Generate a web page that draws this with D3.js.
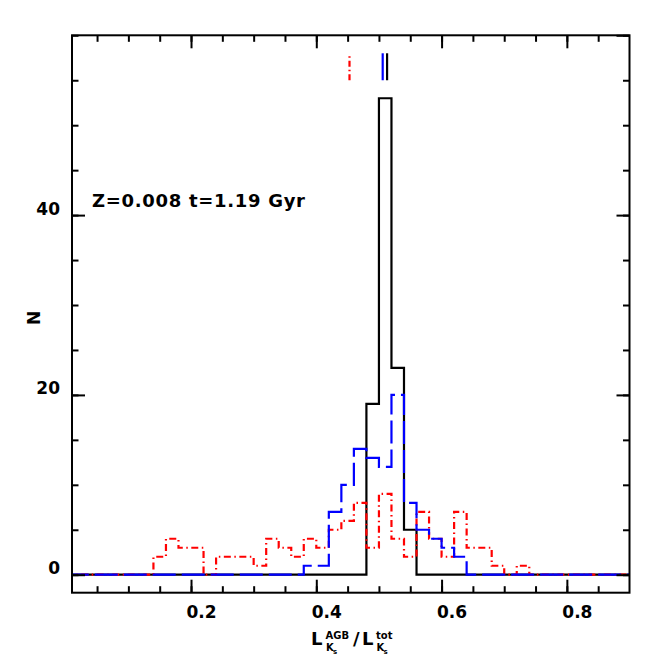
<!DOCTYPE html>
<html lang="en">
<head>
<meta charset="utf-8">
<title>AGB luminance fraction histogram</title>
<script src="https://d3js.org/d3.v7.min.js"></script>
<style>
body { margin: 0; background: #fff; }
</style>
</head>
<body>
<div id="container"></div>
<script>
// histogram bins: width 0.02, counts listed from the first non-empty bin
const binWidth = 0.02;
const binStart = 0.00;
const binEnd = 0.90;

const blackFrom = 0.48;
const blackCounts = [19, 53, 23, 5];

const blueFrom = 0.38;
const blueCounts = [1, 1, 7, 10, 14, 13, 12, 20, 8, 5, 4, 3, 2];

const redFrom = 0.14;
const redCounts = [2, 4, 3, 3, 0, 2, 2, 2, 1, 4, 3, 2, 4, 3, 5, 6, 8, 3, 9, 4, 2, 7, 4, 2, 7, 3, 3, 1, 0, 1];

// mean markers drawn at the top of the panel
const markerValues = [0.453, 0.506, 0.513];
const markerSeries = ["red", "blue", "black"];

const xMajor = [0.2, 0.4, 0.6, 0.8];
const yMajor = [0, 20, 40, 60];

const width = 664;
const height = 664;
const plotL = 72, plotR = 629.5, plotT = 35.3, plotB = 592.7;
const font = "DejaVu Sans";

const svg = d3.select("div#container").append("svg")
    .attr("width", width)
    .attr("height", height);

const x = d3.scaleLinear().domain([0.01, 0.9]).range([plotL, plotR]);
const y = d3.scaleLinear().domain([-2, 60]).range([plotB, plotT]);

function fullBins(from, counts) {
    const n = Math.round((binEnd - binStart) / binWidth);
    const out = [];
    const k0 = Math.round((from - binStart) / binWidth);
    for (let i = 0; i < n; i++) {
        const c = (i >= k0 && i - k0 < counts.length) ? counts[i - k0] : 0;
        out.push({edge: binStart + i * binWidth, n: c});
    }
    out.push({edge: binEnd, n: out[out.length - 1].n});
    return out;
}

const series = [
    {id: "black", color: "#000", dash: null, bins: fullBins(blackFrom, blackCounts)},
    {id: "red", color: "#ff0000", dash: "7,3.5,1.5,3.5", bins: fullBins(redFrom, redCounts)},
    {id: "blue", color: "#0000ff", dash: "23,6", bins: fullBins(blueFrom, blueCounts)}
];
const styleOf = {};
series.forEach(function(s) { styleOf[s.id] = s; });

svg.append("clipPath").attr("id", "plotclip")
    .append("rect")
    .attr("x", plotL).attr("y", plotT)
    .attr("width", plotR - plotL).attr("height", plotB - plotT);

const line = d3.line()
    .curve(d3.curveStepAfter)
    .x(function(d) { return x(d.edge); })
    .y(function(d) { return y(d.n); });

svg.append("g")
    .attr("clip-path", "url(#plotclip)")
    .selectAll("path")
    .data(series)
    .enter()
    .append("path")
    .attr("d", function(d) { return line(d.bins); })
    .attr("fill", "none")
    .attr("stroke", function(d) { return d.color; })
    .attr("stroke-width", 2.2)
    .attr("stroke-dasharray", function(d) { return d.dash; });

// short vertical markers at the mean of each distribution
svg.append("g")
    .selectAll("line")
    .data(markerValues)
    .enter()
    .append("line")
    .attr("x1", function(d) { return x(d); })
    .attr("x2", function(d) { return x(d); })
    .attr("y1", y(55))
    .attr("y2", y(58))
    .attr("stroke", function(d, i) { return styleOf[markerSeries[i]].color; })
    .attr("stroke-width", 2.2)
    .attr("stroke-dasharray", function(d, i) {
        return markerSeries[i] === "red" ? "6,3,1.5,3" : null; });

// axes: ticks point inward on all four sides
function styleAxis(g) {
    g.select(".domain").remove();
    g.selectAll("line").attr("stroke", "#000").attr("stroke-width", 2);
    g.selectAll("text")
        .attr("font-family", font)
        .attr("font-weight", "bold")
        .attr("font-size", 17)
        .attr("fill", "#000");
}
const xMinor = d3.range(0.05, 0.9, 0.05);
const yMinor = d3.range(0, 61, 5);

svg.append("g").attr("transform", "translate(0," + plotB + ")")
    .call(d3.axisBottom(x).tickValues(xMinor).tickSize(-6.5).tickFormat(""))
    .call(styleAxis);
svg.append("g").attr("transform", "translate(0," + plotB + ")")
    .call(d3.axisBottom(x).tickValues(xMajor).tickSize(-13).tickFormat(d3.format(".1f")))
    .call(styleAxis)
    .selectAll("text")
    .attr("x", 10)
    .attr("y", 25.5)
    .attr("dy", 0);
svg.append("g").attr("transform", "translate(0," + plotT + ")")
    .call(d3.axisTop(x).tickValues(xMinor).tickSize(-6.5).tickFormat(""))
    .call(styleAxis);
svg.append("g").attr("transform", "translate(0," + plotT + ")")
    .call(d3.axisTop(x).tickValues(xMajor).tickSize(-13).tickFormat(""))
    .call(styleAxis);

svg.append("g").attr("transform", "translate(" + plotL + ",0)")
    .call(d3.axisLeft(y).tickValues(yMinor).tickSize(-6.5).tickFormat(""))
    .call(styleAxis);
svg.append("g").attr("transform", "translate(" + plotL + ",0)")
    .call(d3.axisLeft(y).tickValues(yMajor.filter(function(v) { return v < 60; }))
        .tickSize(-13).tickPadding(12))
    .call(styleAxis)
    .selectAll("text")
    .attr("dy", -1);
svg.append("g").attr("transform", "translate(" + plotR + ",0)")
    .call(d3.axisRight(y).tickValues(yMinor).tickSize(-6.5).tickFormat(""))
    .call(styleAxis);
svg.append("g").attr("transform", "translate(" + plotR + ",0)")
    .call(d3.axisRight(y).tickValues(yMajor).tickSize(-13).tickFormat(""))
    .call(styleAxis);

svg.append("rect")
    .attr("x", plotL).attr("y", plotT)
    .attr("width", plotR - plotL).attr("height", plotB - plotT)
    .attr("fill", "none")
    .attr("stroke", "#000")
    .attr("stroke-width", 2);

// labels
svg.append("text")
    .attr("transform", "translate(40," + ((plotT + plotB) / 2 + 4) + ") rotate(-90)")
    .attr("text-anchor", "middle")
    .attr("font-family", font)
    .attr("font-weight", "bold")
    .attr("font-size", 17)
    .text("N");

svg.append("text")
    .attr("x", 92)
    .attr("y", 206.5)
    .attr("font-family", font)
    .attr("font-weight", "bold")
    .attr("font-size", 18)
    .attr("textLength", 213)
    .attr("lengthAdjust", "spacing")
    .text("Z=0.008 t=1.19 Gyr");

const xl = svg.append("g")
    .attr("transform", "translate(311,645)")
    .attr("font-family", font)
    .attr("font-weight", "bold");
const xlParts = [
    {t: "L", x: 0, y: 0, s: 18},
    {t: "AGB", x: 14.5, y: -6, s: 10},
    {t: "K", x: 15, y: 6, s: 10},
    {t: "s", x: 22, y: 9, s: 7},
    {t: "/", x: 42, y: 0, s: 18},
    {t: "L", x: 51, y: 0, s: 18},
    {t: "tot", x: 65, y: -6, s: 10},
    {t: "K", x: 65.5, y: 6, s: 10},
    {t: "s", x: 72.5, y: 9, s: 7}
];
xl.selectAll("text")
    .data(xlParts)
    .enter()
    .append("text")
    .attr("x", function(d) { return d.x; })
    .attr("y", function(d) { return d.y; })
    .attr("font-size", function(d) { return d.s; })
    .text(function(d) { return d.t; });
</script>
</body>
</html>
